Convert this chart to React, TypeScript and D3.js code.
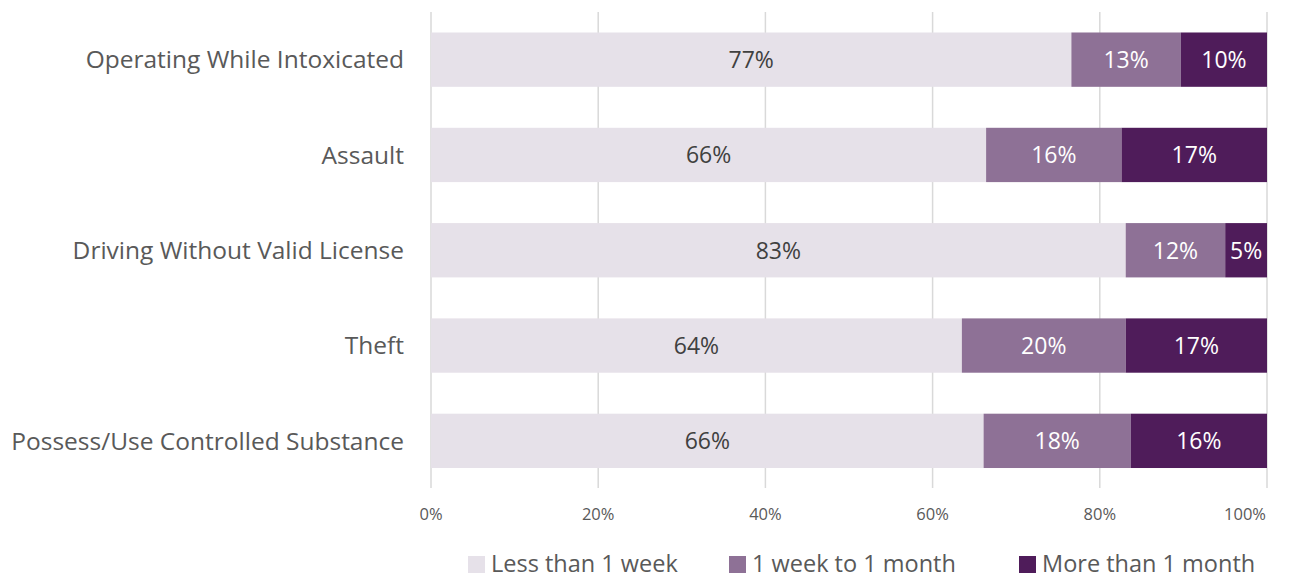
import React, { useEffect, useRef } from "react";
import * as d3 from "d3";

const categories = [
  "Operating While Intoxicated",
  "Assault",
  "Driving Without Valid License",
  "Theft",
  "Possess/Use Controlled Substance",
];
const seriesNames = ["Less than 1 week", "1 week to 1 month", "More than 1 month"];
const lessThanWeek = [76.6, 66.4, 83.1, 63.5, 66.1];
const weekToMonth = [13.1, 16.2, 11.9, 19.6, 17.6];
const moreThanMonth = [10.3, 17.4, 5.0, 16.9, 16.3];
const labelLess = ["77%", "66%", "83%", "64%", "66%"];
const labelMid = ["13%", "16%", "12%", "20%", "18%"];
const labelMore = ["10%", "17%", "5%", "17%", "16%"];
const xTicks = [0, 20, 40, 60, 80, 100];

const colors = ["#E6E1E9", "#8E7196", "#4F1C5A"];
const textColors = ["#404040", "#ffffff", "#ffffff"];

const App: React.FC = () => {
  const svgRef = useRef<SVGSVGElement>(null);

  useEffect(() => {
    const svg = d3.select(svgRef.current).attr("width", 1291).attr("height", 578);
    svg.selectAll("*").remove();
    const font = "'Open Sans', sans-serif";

    const x = d3.scaleLinear().domain([0, 100]).range([431, 1267]);
    const y = d3
      .scaleBand()
      .domain(categories)
      .range([12, 488.5])
      .paddingInner(0.43)
      .paddingOuter(0.215);

    // 网格线
    svg
      .append("g")
      .selectAll("line")
      .data(xTicks)
      .join("line")
      .attr("x1", (d) => x(d))
      .attr("x2", (d) => x(d))
      .attr("y1", 12)
      .attr("y2", 488)
      .attr("stroke", "#D9D9D9")
      .attr("stroke-width", 1.5);

    const values = [lessThanWeek, weekToMonth, moreThanMonth];
    const labels = [labelLess, labelMid, labelMore];

    categories.forEach((c, i) => {
      let start = 0;
      values.forEach((s, k) => {
        const v = s[i];
        const x0 = x(start);
        const x1 = x(start + v);
        const yy = y(c) ?? 0;
        svg
          .append("rect")
          .attr("x", x0)
          .attr("y", yy)
          .attr("width", x1 - x0)
          .attr("height", y.bandwidth())
          .attr("fill", colors[k]);
        svg
          .append("text")
          .text(labels[k][i])
          .attr("x", (x0 + x1) / 2)
          .attr("y", yy + y.bandwidth() / 2)
          .attr("dy", "0.36em")
          .attr("text-anchor", "middle")
          .attr("font-family", font)
          .attr("font-size", 23)
          .attr("fill", textColors[k]);
        start += v;
      });
      svg
        .append("text")
        .text(c)
        .attr("x", 404)
        .attr("y", (y(c) ?? 0) + y.bandwidth() / 2)
        .attr("dy", "0.36em")
        .attr("text-anchor", "end")
        .attr("font-family", font)
        .attr("font-size", 24.5)
        .attr("fill", "#595959");
    });

    // x轴刻度
    svg
      .append("g")
      .selectAll("text")
      .data(xTicks)
      .join("text")
      .text((d) => `${d}%`)
      .attr("x", (d) => (d === 100 ? x(d) - 1 : x(d)))
      .attr("y", 520)
      .attr("text-anchor", (d) => (d === 100 ? "end" : "middle"))
      .attr("font-family", font)
      .attr("font-size", 16.5)
      .attr("fill", "#595959");

    // 图例
    const legendX = [468, 729, 1019];
    seriesNames.forEach((n, k) => {
      svg
        .append("rect")
        .attr("x", legendX[k])
        .attr("y", 556)
        .attr("width", 17)
        .attr("height", 17)
        .attr("fill", colors[k]);
      svg
        .append("text")
        .text(n)
        .attr("x", legendX[k] + 23)
        .attr("y", 572)
        .attr("font-family", font)
        .attr("font-size", 23.5)
        .attr("fill", "#595959");
    });
  }, []);

  return (
    <svg ref={svgRef} style={{ position: "absolute", left: 0, top: 0 }}></svg>
  );
};

export default App;
